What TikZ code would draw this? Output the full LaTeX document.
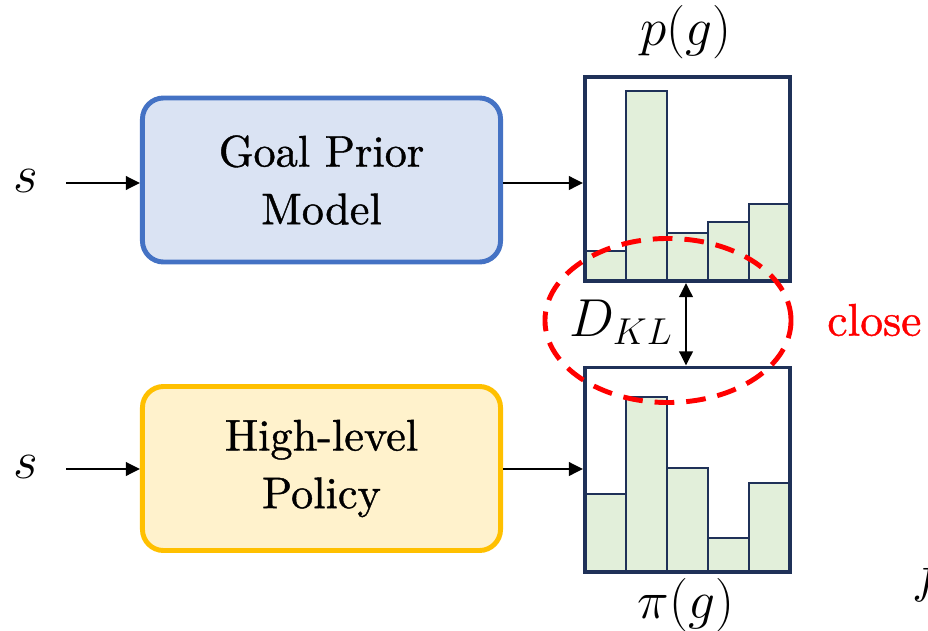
\RequirePackage{fix-cm}
\documentclass[tikz,border=0pt]{standalone}
\usepackage{fontspec}
\newfontfamily\boxfont{lmroman10-regular.otf}[FakeBold=0.9]
\usetikzlibrary{arrows.meta,shapes.geometric}
\definecolor{gpblue}{HTML}{4472C4}
\definecolor{gpfill}{HTML}{DAE3F3}
\definecolor{hlborder}{HTML}{FFC000}
\definecolor{hlfill}{HTML}{FFF2CC}
\definecolor{navy}{HTML}{1F3158}
\definecolor{barfill}{HTML}{E2EFDA}
\definecolor{closered}{HTML}{FF0000}
\begin{document}
\begin{tikzpicture}[x=0.025cm,y=-0.025cm,
  procbox/.style={rounded corners=15pt, line width=3.5pt, minimum width=8.95cm,
    minimum height=4.1cm, align=center, inner sep=0pt,
    font=\boxfont\fontsize{31.5}{41}\selectfont},
  arr/.style={line width=1.8pt, -{Triangle[length=10pt,width=9.5pt]}},
  dblarr/.style={line width=1.8pt, {Triangle[length=10pt,width=9.5pt]}-{Triangle[length=10pt,width=9.5pt]}},
  bar/.style={fill=barfill, draw=navy, line width=2pt},
  histframe/.style={draw=navy, line width=2.8pt, minimum width=5.125cm,
    minimum height=5.1cm, inner sep=0pt},
  mathlbl/.style={font=\fontsize{38}{44}\selectfont, inner sep=0pt},
  closeell/.style={draw=closered, line width=3.5pt, dash pattern=on 14pt off 8.5pt}]
\useasboundingbox (0,0) rectangle (928,631);

% processing boxes
\node[procbox, draw=gpblue, fill=gpfill] (gp) at (321.5,180) {Goal Prior\\Model};
\node[procbox, draw=hlborder, fill=hlfill] (hl) at (321.5,468.5) {High-level\\Policy};

% inputs
\node[mathlbl] (s1) at (26,181) {$s$};
\node[mathlbl] (s2) at (26,467) {$s$};
\coordinate (s1o) at (66,183);
\coordinate (s2o) at (66,469);
\draw[arr] (s1o) -- (gp.west |- s1o);
\draw[arr] (s2o) -- (hl.west |- s2o);

% histograms: bars
\foreach \xa/\xb/\t in {585/626/251, 626/667/91, 667/708/233, 708/749/222, 749/790/204}
  \draw[bar] (\xa,\t) rectangle (\xb,281);
\foreach \xa/\xb/\t in {585/626/494, 626/667/397, 667/708/468, 708/749/538, 749/790/483}
  \draw[bar] (\xa,\t) rectangle (\xb,571);
\node[histframe] (ph) at (687.5,179) {};
\node[histframe] (pih) at (687.5,469.5) {};

% box -> histogram
\draw[arr] (gp.east |- s1o) -- (ph.west |- s1o);
\draw[arr] (hl.east |- s2o) -- (pih.west |- s2o);

% labels
\node[mathlbl] (pg) at (686,32) {$p(g)$};
\node[mathlbl] (pig) at (686,605) {$\pi(g)$};

% KL
\coordinate (klx) at (686,0);
\draw[dblarr] (ph.south -| klx) -- (pih.north -| klx);
\node[mathlbl] (dkl) at (621,322) {$D_{KL}$};

% close ellipse
\node[closeell, ellipse, minimum width=6.15cm, minimum height=4.1cm, inner sep=0pt] (ell) at (668,320.5) {};
\node[font=\boxfont\fontsize{32.5}{40}\selectfont, text=closered, inner sep=0pt, anchor=west] (close) at (827,320) {close};

% clipped glyph at the right edge
\node[mathlbl, anchor=west] (fcut) at (912,578) {$f$};
\end{tikzpicture}
\end{document}
